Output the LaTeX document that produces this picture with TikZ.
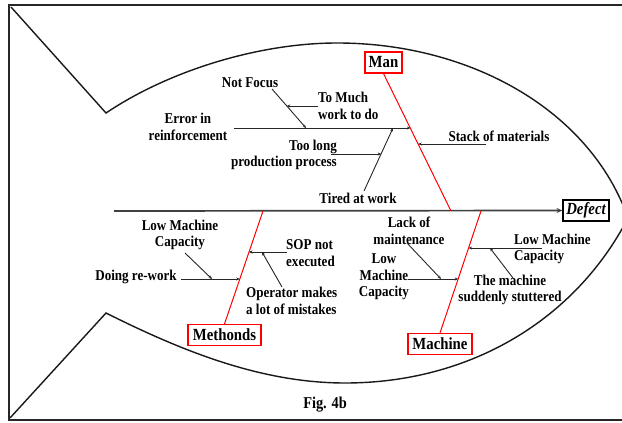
\documentclass[tikz,border=0pt]{standalone}
\usepackage{fontspec}
\setmainfont{Liberation Serif}
\newfontfamily\labelfont{Liberation Serif}[FakeStretch=0.87]
\usetikzlibrary{arrows.meta,calc}

\tikzset{
  lbl/.style={font=\labelfont\fontsize{15}{16.5}\selectfont\bfseries, inner sep=0pt, align=center},
  frameline/.style={line width=2.4pt, black!85},
  outline/.style={line width=1.4pt, black!90, line join=miter},
  spine/.style={line width=1.7pt, black!75, -{Stealth[length=6pt,width=5pt]}},
  bone/.style={line width=1pt, red},
  br/.style={line width=0.9pt, black!85, -{Stealth[length=3.5pt,width=3pt]}},
  rbox/.style={draw=red, line width=1.1pt, fill=white, minimum height=21pt,
    inner sep=0pt, font=\labelfont\fontsize{17}{18}\selectfont\bfseries},
  kbox/.style={draw=black, line width=1.1pt, fill=white, minimum height=21pt,
    inner sep=0pt, font=\labelfont\fontsize{17}{18}\selectfont\bfseries\itshape},
}

\begin{document}
\begin{tikzpicture}[x=1pt,y=-1pt]
\useasboundingbox (0,0) rectangle (622,423);

% outer frame (open towards the head side)
\draw[frameline] (640,5) -- (9,5) -- (9,420) -- (640,420);

% fish outline: tail strokes and body curves
\draw[outline] (11,7) -- (106,113)
  .. controls (170,70) and (260,43) .. (337,43)
  .. controls (470,43) and (590,110) .. (628,218)
  .. controls (575,320) and (470,383) .. (345,383)
  .. controls (260,383) and (180,350) .. (106,313)
  -- (10,418);

% effect box and main spine
\node[kbox, minimum width=46pt] (defect) at (586,210.5) {Defect};
\coordinate (sp0) at (114,211);
\draw[spine] (sp0) -- (defect.west);

% category boxes
\node[rbox, minimum width=37pt] (man) at (383.5,62.5) {Man};
\node[rbox, minimum width=73pt] (methonds) at (224.5,335) {Methonds};
\node[rbox, minimum width=64pt] (machine) at (440,344) {Machine};

% category bones
\coordinate (jman) at (451,211);
\coordinate (jmeth) at (263,211);
\coordinate (jmach) at (481,211);
\draw[bone] (man.south) -- (jman);
\draw[bone] (jmeth) -- (methonds.north);
\draw[bone] (jmach) -- (machine.north);

% ---------- Man ----------
\node[lbl] (err) at (188,127) {Error in\\reinforcement};
\node[lbl] (notfocus) at (250,83) {Not Focus};
\node[lbl, align=left, anchor=west] (tomuch) at (318,106) {To Much\\work to do};
\node[lbl] (stack) at (499,136) {Stack of materials};
\node[lbl, align=right, anchor=east] (toolong) at (337,155) {Too long\\production process};
\node[lbl] (tired) at (358,198) {Tired at work};

\coordinate (kErr) at (410.4,128);
\coordinate (kStack) at (418.2,144);
\coordinate (e0) at (234,128);
\coordinate (nf0) at (272,89);
\coordinate (kNF) at (306,128);
\coordinate (kTM) at (286.8,106);
\coordinate (s0) at (486,144);
\coordinate (t0) at (364,191);
\coordinate (kTired) at (393,128);
\coordinate (tl0) at (331,154);
\coordinate (kTL) at (381.2,154);

\draw[br] (e0) -- (kErr);
\draw[br] (nf0) -- (kNF);
\draw[br] (tomuch.west |- kTM) -- (kTM);
\draw[br] (s0) -- (kStack);
\draw[br] (t0) -- (kTired);
\draw[br] (tl0) -- (kTL);

% ---------- Methonds ----------
\node[lbl] (lowcapA) at (180,235) {Low Machine\\Capacity};
\node[lbl] (doing) at (136,277) {Doing re-work};
\node[lbl, align=left, anchor=west] (sop) at (286,253) {SOP not\\executed};
\node[lbl, align=left, anchor=west] (oper) at (246,301) {Operator makes\\a lot of mistakes};

\coordinate (kDo) at (239.8,279);
\coordinate (kSOP) at (249,252);
\coordinate (do0) at (181,279);
\coordinate (lc0) at (185,253);
\coordinate (kLC) at (212,279);
\coordinate (sop0) at (287,252);
\coordinate (op0) at (282,287);
\coordinate (kOp) at (262,252);

\draw[br] (do0) -- (kDo);
\draw[br] (lc0) -- (kLC);
\draw[br] (sop0) -- (kSOP);
\draw[br] (op0) -- (kOp);

% ---------- Machine ----------
\node[lbl] (lack) at (409,231) {Lack of\\maintenance};
\node[lbl] (lowcapB) at (384,277) {Low\\Machine\\Capacity};
\node[lbl, align=left, anchor=west] (lowcapC) at (514,249) {Low Machine\\Capacity};
\node[lbl] (stutter) at (510,290) {The machine\\suddenly stuttered};

\coordinate (kML) at (458.2,279);
\coordinate (kMR) at (468.6,248);
\coordinate (ml0) at (408,279);
\coordinate (la0) at (407,243);
\coordinate (kLa) at (441,279);
\coordinate (mr0) at (542,248);
\coordinate (st0) at (513,278);
\coordinate (kSt) at (490,248);

\draw[br] (ml0) -- (kML);
\draw[br] (la0) -- (kLa);
\draw[br] (mr0) -- (kMR);
\draw[br] (st0) -- (kSt);

% caption
\node[lbl, font=\labelfont\fontsize{16.5}{18}\selectfont\bfseries] (fig) at (325,405) {Fig. 4b};
\end{tikzpicture}
\end{document}
